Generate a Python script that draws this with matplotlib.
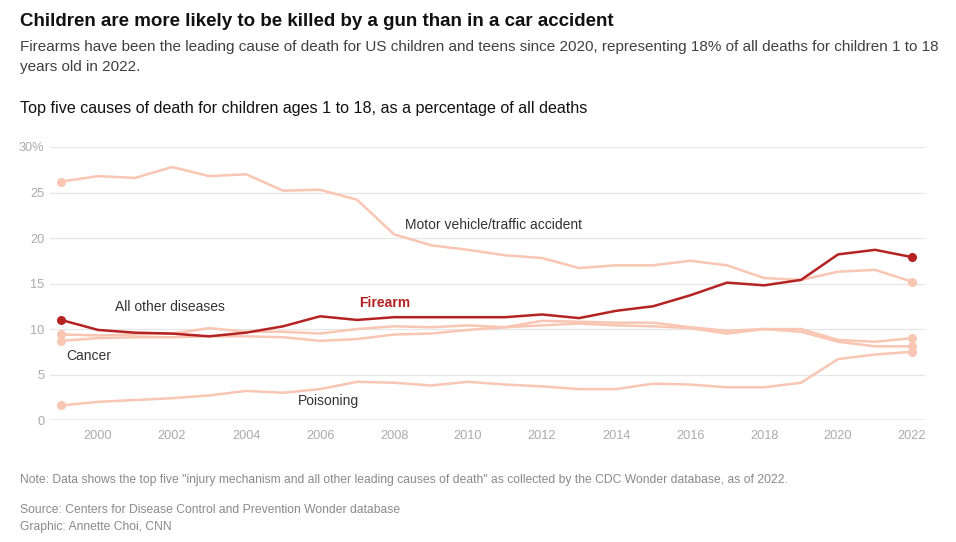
import numpy as np
import matplotlib
matplotlib.use('Agg')
import matplotlib.pyplot as plt

plt.rcParams['font.family'] = ['Liberation Sans', 'DejaVu Sans']

# data (percent of all deaths, ages 1-18)
years = list(range(1999, 2023))

motor_vehicle = [26.2, 26.8, 26.6, 27.8, 26.8, 27.0, 25.2, 25.3, 24.2, 20.4, 19.2, 18.7,
                 18.1, 17.8, 16.7, 17.0, 17.0, 17.5, 17.0, 15.6, 15.4, 16.3, 16.5, 15.2]
firearm = [11.0, 9.9, 9.6, 9.5, 9.2, 9.6, 10.3, 11.4, 11.0, 11.3, 11.3, 11.3,
           11.3, 11.6, 11.2, 12.0, 12.5, 13.7, 15.1, 14.8, 15.4, 18.2, 18.7, 17.9]
other_diseases = [9.4, 9.3, 9.4, 9.5, 10.1, 9.7, 9.7, 9.5, 10.0, 10.3, 10.2, 10.4,
                  10.2, 10.4, 10.6, 10.4, 10.3, 10.1, 9.5, 10.0, 9.7, 8.6, 8.1, 8.1]
cancer = [8.7, 9.0, 9.1, 9.1, 9.2, 9.2, 9.1, 8.7, 8.9, 9.4, 9.5, 9.9,
          10.2, 10.9, 10.8, 10.7, 10.7, 10.2, 9.8, 10.0, 10.0, 8.8, 8.6, 9.0]
poisoning = [1.6, 2.0, 2.2, 2.4, 2.7, 3.2, 3.0, 3.4, 4.2, 4.1, 3.8, 4.2,
             3.9, 3.7, 3.4, 3.4, 4.0, 3.9, 3.6, 3.6, 4.1, 6.7, 7.2, 7.5]

y_ticks = [0, 5, 10, 15, 20, 25, 30]
y_labels = ['0', '5', '10', '15', '20', '25', '30%']
x_ticks = list(range(2000, 2023, 2))

pale = '#f8c6b2'
red = '#b52222'

fig = plt.figure(figsize=[9.56, 5.42], dpi=100)
ax = fig.add_axes([0.0523, 0.225, 0.9153, 0.5038])

for series in [motor_vehicle, other_diseases, cancer, poisoning]:
    ax.plot(years, series, c=pale, lw=1.8, zorder=2, solid_joinstyle='round')
    ax.scatter([years[0], years[-1]], [series[0], series[-1]], s=30, c=pale, zorder=3)
ax.plot(years, firearm, c=red, lw=1.8, zorder=4)
ax.scatter([years[0], years[-1]], [firearm[0], firearm[-1]], s=30, c=red, zorder=5)

ax.set_xlim(1998.7, 2022.35)
ax.set_ylim(0, 30)
ax.set_yticks(y_ticks)
ax.set_yticklabels(y_labels)
ax.set_xticks(x_ticks)
for s in ['top', 'right', 'left', 'bottom']:
    ax.spines[s].set_visible(False)
ax.grid(axis='y', color='#e6e6e6', lw=0.9, zorder=0)
ax.axhline(0, color='#b0b0b0', lw=1.0, zorder=1)
ax.tick_params(axis='both', length=0, labelsize=9.2, labelcolor='#aaaaaa')
ax.tick_params(axis='y', pad=4)
ax.tick_params(axis='x', pad=7)

# line labels
lab = dict(fontsize=10, color='#333333', va='center')
ax.text(2008.3, 21.4, 'Motor vehicle/traffic accident', **lab)
ax.text(2000.45, 12.4, 'All other diseases', **lab)
ax.text(1999.15, 7.0, 'Cancer', **lab)
ax.text(2005.4, 2.1, 'Poisoning', **lab)
ax.text(2007.05, 12.9, 'Firearm', fontsize=10, color=red, va='center', fontweight='bold')

# headline block
fig.text(20 / 956, 1 - 21 / 542, 'Children are more likely to be killed by a gun than in a car accident',
         fontsize=13.5, fontweight='bold', color='#111111', va='center')
fig.text(20 / 956, 1 - 47 / 542,
         'Firearms have been the leading cause of death for US children and teens since 2020, '
         'representing 18% of all deaths for children 1 to 18',
         fontsize=11, color='#404040', va='center')
fig.text(20 / 956, 1 - 67 / 542, 'years old in 2022.', fontsize=11, color='#404040', va='center')
fig.text(20 / 956, 1 - 108 / 542,
         'Top five causes of death for children ages 1 to 18, as a percentage of all deaths',
         fontsize=11.6, color='#111111', va='center')

# footer
foot = dict(fontsize=8.75, color='#8a8a8a', va='center')
fig.text(20 / 956, 1 - 480 / 542,
         'Note: Data shows the top five "injury mechanism and all other leading causes of death" '
         'as collected by the CDC Wonder database, as of 2022.', **foot)
fig.text(20 / 956, 1 - 510 / 542, 'Source: Centers for Disease Control and Prevention Wonder database', **foot)
fig.text(20 / 956, 1 - 527 / 542, 'Graphic: Annette Choi, CNN', **foot)

fig.savefig('out.png', dpi=100)
